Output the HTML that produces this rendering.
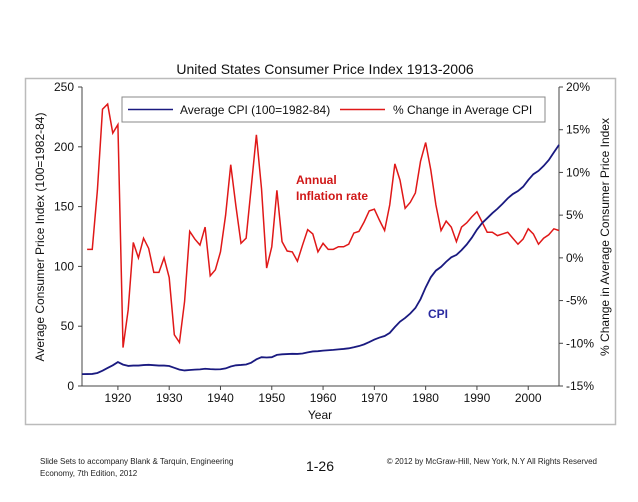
<!DOCTYPE html>
<html><head><meta charset="utf-8"><style>
body{margin:0;background:#fff;font-family:"Liberation Sans",sans-serif}
svg text{font-family:"Liberation Sans",sans-serif}
</style></head><body>
<svg width="638" height="497" viewBox="0 0 638 497">
<rect x="0" y="0" width="638" height="497" fill="#fff"/>
<rect x="25.5" y="78.5" width="590" height="346" fill="none" stroke="#bbb" stroke-width="1.5"/>
<text x="325" y="74" text-anchor="middle" font-size="14" fill="#111">United States Consumer Price Index 1913-2006</text>
<g id="axes"></g>
<g id="marks"></g>
<g>
<rect x="122" y="97" width="423" height="25" fill="#fff" stroke="#888"/>
<line x1="128" y1="109.5" x2="173" y2="109.5" stroke="#1a1a80" stroke-width="1.5"/>
<text x="180" y="114" font-size="12" fill="#111">Average CPI (100=1982-84)</text>
<line x1="340" y1="109.5" x2="385" y2="109.5" stroke="#e01818" stroke-width="1.5"/>
<text x="393" y="114" font-size="12" fill="#111">% Change in Average CPI</text>
</g>
<text x="296" y="184" font-size="12" font-weight="bold" fill="#d01818">Annual</text>
<text x="296" y="200" font-size="12" font-weight="bold" fill="#d01818">Inflation rate</text>
<text x="428" y="318" font-size="12" font-weight="bold" fill="#2a2aa0">CPI</text>
<text x="320" y="419" text-anchor="middle" font-size="12" fill="#111">Year</text>
<text transform="translate(44,237) rotate(-90)" text-anchor="middle" font-size="12" fill="#111">Average Consumer Price Index (100=1982-84)</text>
<text transform="translate(609,237) rotate(-90)" text-anchor="middle" font-size="12" fill="#111">% Change in Average Consumer Price Index</text>
<text x="40" y="464" font-size="8" fill="#222">Slide Sets  to accompany Blank &amp; Tarquin, Engineering</text>
<text x="40" y="476" font-size="8" fill="#222">Economy, 7th Edition, 2012</text>
<text x="320" y="471" text-anchor="middle" font-size="14" fill="#111">1-26</text>
<text x="597" y="464" text-anchor="end" font-size="8" fill="#222">© 2012 by McGraw-Hill, New York, N.Y All Rights Reserved</text>
</svg>
<script>
const years=[];for(let y=1913;y<=2006;y++)years.push(y);
const cpiValues=[9.9,10.0,10.1,10.9,12.8,15.1,17.3,20.0,17.9,16.8,17.1,17.1,17.5,17.7,17.4,17.1,17.1,16.7,15.2,13.7,13.0,13.4,13.7,13.9,14.4,14.1,13.9,14.0,14.7,16.3,17.3,17.6,18.0,19.5,22.3,24.1,23.8,24.1,26.0,26.5,26.7,26.9,26.8,27.2,28.1,28.9,29.1,29.6,29.9,30.2,30.6,31.0,31.5,32.4,33.4,34.8,36.7,38.8,40.5,41.8,44.4,49.3,53.8,56.9,60.6,65.2,72.6,82.4,90.9,96.5,99.6,103.9,107.6,109.6,113.6,118.3,124.0,130.7,136.2,140.3,144.5,148.2,152.4,156.9,160.5,163.0,166.6,172.2,177.1,179.9,184.0,188.9,195.3,201.6];
const inflYears=years.slice(1);
const inflValues=[1.0,1.0,7.9,17.4,18.0,14.6,15.6,-10.5,-6.1,1.8,0.0,2.3,1.1,-1.7,-1.7,0.0,-2.3,-9.0,-9.9,-5.1,3.1,2.2,1.5,3.6,-2.1,-1.4,0.7,5.0,10.9,6.1,1.7,2.3,8.3,14.4,8.1,-1.2,1.3,7.9,1.9,0.8,0.7,-0.4,1.5,3.3,2.8,0.7,1.7,1.0,1.0,1.3,1.3,1.6,2.9,3.1,4.2,5.5,5.7,4.4,3.2,6.2,11.0,9.1,5.8,6.5,7.6,11.3,13.5,10.3,6.2,3.2,4.3,3.6,1.9,3.6,4.1,4.8,5.4,4.2,3.0,3.0,2.6,2.8,3.0,2.3,1.6,2.2,3.4,2.8,1.6,2.3,2.7,3.4,3.2];
const xTicks=[1920,1930,1940,1950,1960,1970,1980,1990,2000];
const leftTicks=[0,50,100,150,200,250];
const rightTicks=[-15,-10,-5,0,5,10,15,20];
const X0=82,X1=559,Y0=386,Y1=87;
const xs=y=>X0+(y-1913)/(2006-1913)*(X1-X0);
const yl=v=>Y0-v/250*(Y0-Y1);
const yr=v=>Y0-(v+15)/35*(Y0-Y1);
const NS='http://www.w3.org/2000/svg';
function mk(tag,attrs,parent){const e=document.createElementNS(NS,tag);for(const k in attrs)e.setAttribute(k,attrs[k]);parent.appendChild(e);return e;}
const axes=document.getElementById('axes'),marks=document.getElementById('marks');
let l=mk('line',{x1:X0,y1:Y1,x2:X0,y2:Y0,stroke:'#444'},axes);


l=mk('line',{x1:X1,y1:Y1,x2:X1,y2:Y0,stroke:'#444'},axes);


l=mk('line',{x1:X0,y1:Y0,x2:X1,y2:Y0,stroke:'#444'},axes);


xTicks.forEach(t=>{const x=xs(t);mk('line',{x1:x,y1:Y0,x2:x,y2:Y0+4,stroke:'#444'},axes);
const tx=mk('text',{x:x,y:Y0+16,'text-anchor':'middle','font-size':12,fill:'#111'},axes);tx.textContent=t;

});
leftTicks.forEach(t=>{const y=yl(t);mk('line',{x1:X0-4,y1:y,x2:X0,y2:y,stroke:'#444'},axes);
const tx=mk('text',{x:X0-8,y:y+4,'text-anchor':'end','font-size':12,fill:'#111'},axes);tx.textContent=t;

});
rightTicks.forEach(t=>{const y=yr(t);mk('line',{x1:X1,y1:y,x2:X1+4,y2:y,stroke:'#444'},axes);
const tx=mk('text',{x:X1+7,y:y+4,'font-size':12,fill:'#111'},axes);tx.textContent=t+'%';

});
const infl=mk('polyline',{points:inflYears.map((y,i)=>xs(y)+','+yr(inflValues[i])).join(' '),fill:'none',stroke:'#e01818','stroke-width':1.5},marks);


const cpi=mk('polyline',{points:years.map((y,i)=>xs(y)+','+yl(cpiValues[i])).join(' '),fill:'none',stroke:'#1a1a80','stroke-width':1.8},marks);


</script>
</body></html>
